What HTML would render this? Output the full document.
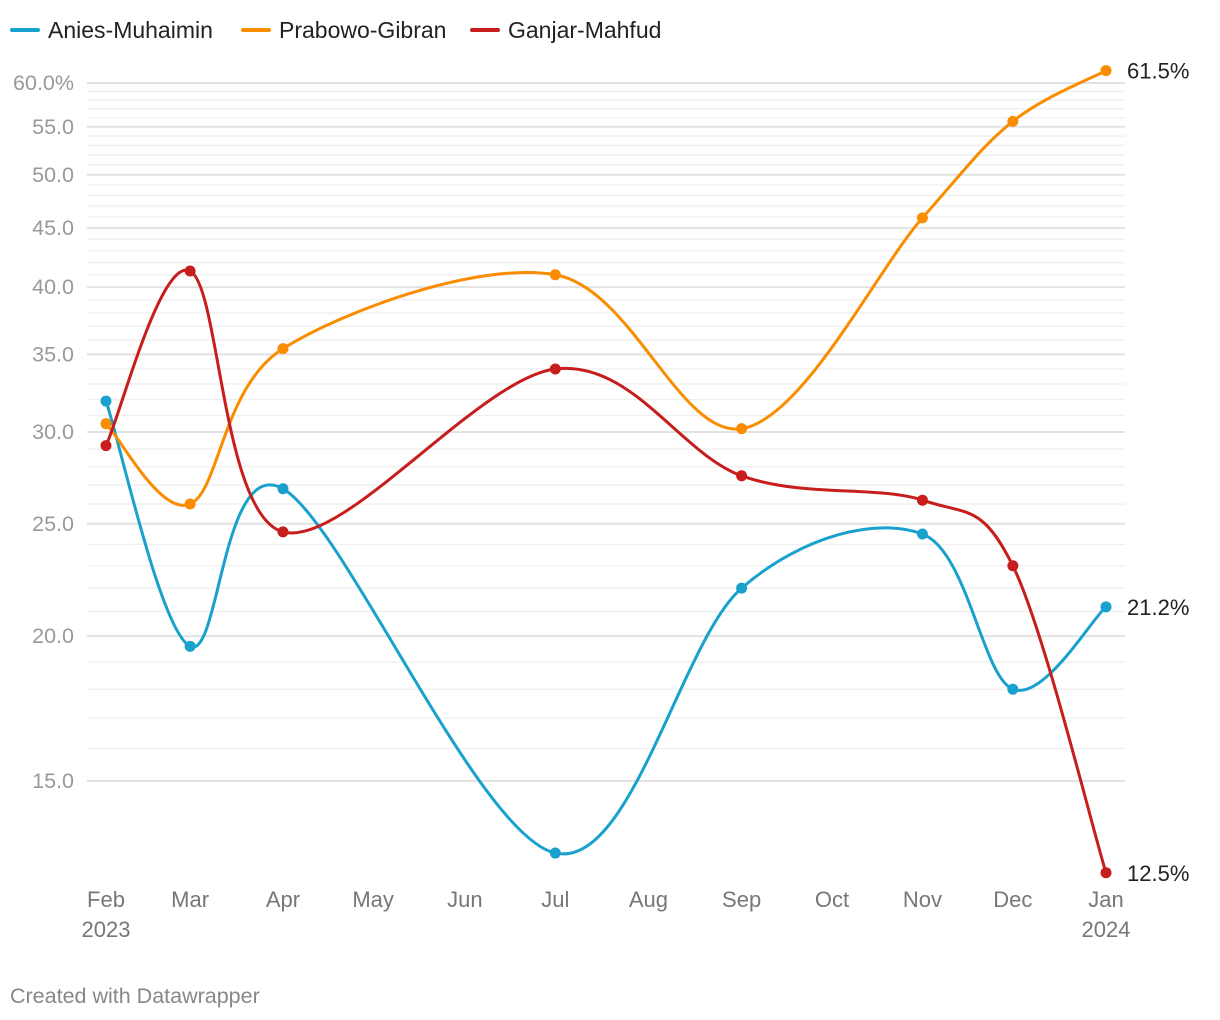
<!DOCTYPE html>
<html><head><meta charset="utf-8"><style>
body{margin:0;background:#fff;font-family:"Liberation Sans",sans-serif;}
svg{display:block}
</style></head><body>
<svg id="chart" width="1220" height="1020" xmlns="http://www.w3.org/2000/svg">
<g font-size="23" fill="#222">
 <g><rect x="10" y="28" width="30" height="4" rx="2" fill="#18a1cd"/><text x="48" y="38">Anies-Muhaimin</text></g>
 <g><rect x="241" y="28" width="30" height="4" rx="2" fill="#fa8c00"/><text x="279" y="38">Prabowo-Gibran</text></g>
 <g><rect x="470" y="28" width="30" height="4" rx="2" fill="#c71e1d"/><text x="508" y="38">Ganjar-Mahfud</text></g>
</g>
<g id="grid"></g>
<g id="yticks"></g>
<g id="xticks"></g>
<g id="series"></g>
<text x="10" y="1003" font-size="21.5" fill="#888">Created with Datawrapper</text>
</svg>
<script>
const monthLabels=["Feb","Mar","Apr","May","Jun","Jul","Aug","Sep","Oct","Nov","Dec","Jan"];
const monthDays=[0,30.7,64.6,97.5,131,164,198,232,265,298,331,365];
const pointDays=[0,30.7,64.6,164,232,298,331,365];
const anies=[31.9,19.6,26.8,13.0,22.0,24.5,18.0,21.2];
const prabowo=[30.5,26.0,35.4,41.0,30.2,45.9,55.6,61.5];
const ganjar=[29.2,41.3,24.6,34.0,27.5,26.2,23.0,12.5];
const yTicks=[15,20,25,30,35,40,45,50,55,60];
const NS="http://www.w3.org/2000/svg";
const x=d=>106+d*1000/365;
const y=v=>83+503.5*Math.log(60/v);
function mk(tag,attrs,parent){const e=document.createElementNS(NS,tag);for(const k in attrs)e.setAttribute(k,attrs[k]);parent.appendChild(e);return e;}
const grid=document.getElementById('grid');
for(let v=15;v<=60;v++){
 const major=yTicks.includes(v);
 const l=mk('line',{x1:87,x2:1125,y1:y(v),y2:y(v),stroke:major?'#e2e2e2':'#efefef','stroke-width':major?2:1.3},grid);
 
 
}
const yt=document.getElementById('yticks');
yTicks.forEach(v=>{
 const t=mk('text',{x:74,y:y(v)+7,'text-anchor':'end','font-size':21.5,fill:'#999'},yt);
 t.textContent=v===60?'60.0%':v.toFixed(1);
 
 
});
const xt=document.getElementById('xticks');
monthLabels.forEach((m,i)=>{
 const t=mk('text',{x:x(monthDays[i]),y:907,'text-anchor':'middle','font-size':22,fill:'#777'},xt);
 t.textContent=m;
 
 
});
[[0,'2023'],[365,'2024']].forEach(([d,s])=>{
 const t=mk('text',{x:x(d),y:937,'text-anchor':'middle','font-size':22,fill:'#777'},xt);
 t.textContent=s;
 
 
});
function path(pts){
 let d=`M${pts[0][0]},${pts[0][1]}`;
 for(let i=0;i<pts.length-1;i++){
  const p0=pts[i-1]||pts[i],p1=pts[i],p2=pts[i+1],p3=pts[i+2]||p2;
  const c1=[p1[0]+(p2[0]-p0[0])/6,p1[1]+(p2[1]-p0[1])/6];
  const c2=[p2[0]-(p3[0]-p1[0])/6,p2[1]-(p3[1]-p1[1])/6];
  d+=` C${c1[0]},${c1[1]} ${c2[0]},${c2[1]} ${p2[0]},${p2[1]}`;
 }
 return d;
}
const ser=document.getElementById('series');
[[anies,'#18a1cd','anies'],[prabowo,'#fa8c00','prabowo'],[ganjar,'#c71e1d','ganjar']].forEach(([vals,c,n])=>{
 const g=mk('g',{},ser);
 
 
 const pts=vals.map((v,i)=>[x(pointDays[i]),y(v)]);
 const p=mk('path',{d:path(pts),fill:'none',stroke:c,'stroke-width':3},g);
 
 
 pts.forEach(q=>{
  const ci=mk('circle',{cx:q[0],cy:q[1],r:5.5,fill:c},g);
  
  
 });
 const last=vals[vals.length-1];
 const t=mk('text',{x:1127,y:y(last)+8,'font-size':22,fill:'#222'},g);
 t.textContent=last.toFixed(1)+'%';
 
 
});
</script>
</body></html>
